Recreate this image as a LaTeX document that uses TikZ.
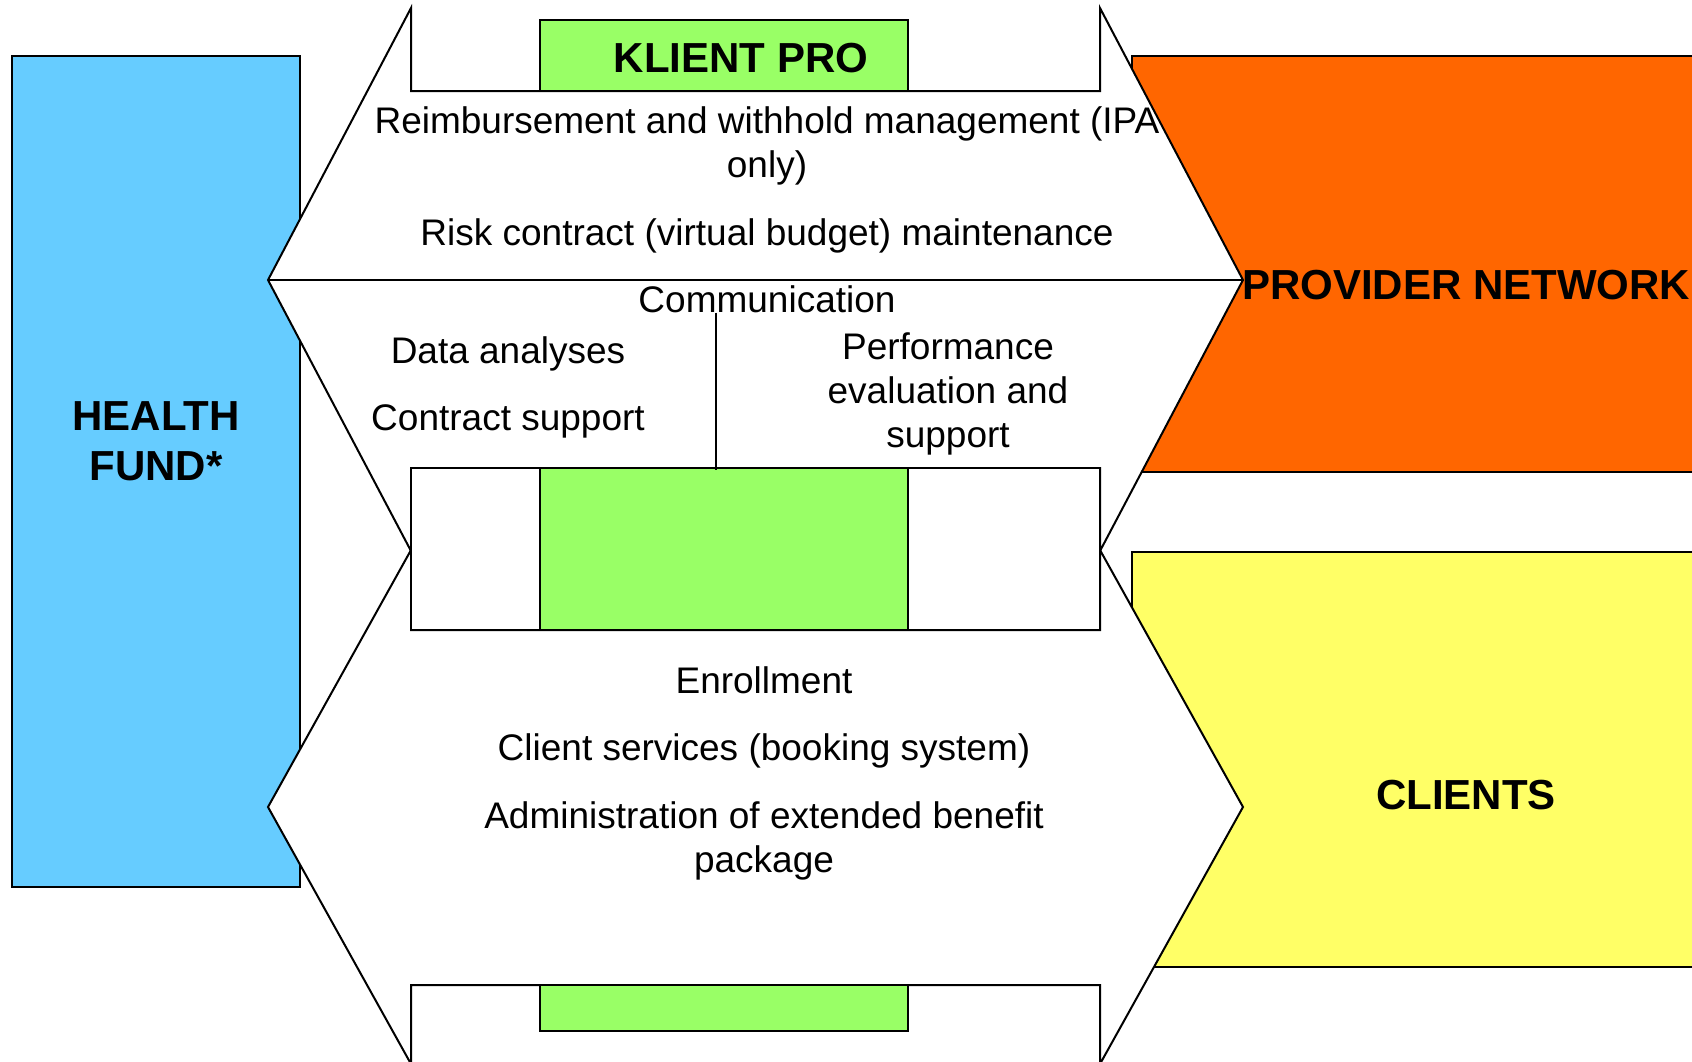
\documentclass[tikz,border=0pt]{standalone}
\usepackage{fontspec}
\setmainfont{Liberation Sans}
\usepackage{tikz}
\usetikzlibrary{positioning}

\definecolor{fundblue}{RGB}{102,204,255}
\definecolor{netorange}{RGB}{255,102,0}
\definecolor{clientyellow}{RGB}{255,255,102}
\definecolor{kpgreen}{RGB}{153,255,102}

\begin{document}
\begin{tikzpicture}[x=1pt, y=-1pt,
  edge/.style={draw=black, line width=2pt, line join=miter},
  txt/.style={anchor=base, align=center, inner sep=0pt, font=\fontsize{37}{44}\selectfont},
  title/.style={anchor=base, align=center, inner sep=0pt, font=\fontsize{42}{50}\selectfont\bfseries}]
\clip (0,0) rectangle (1692,1061);
\fill [white] (0,0) rectangle (1692,1061);

\path [fill=fundblue, edge] (12,56) rectangle (300,887);
\path [fill=netorange, edge] (1132,56) rectangle (1810,472);
\path [fill=clientyellow, edge] (1132,552) rectangle (1810,967);

% the two double arrows
\path [fill=white, edge] (268,280) -- (411,8) -- (411,91) -- (1100,91) -- (1100,8) -- (1243,280) -- (1100,551) -- (1100,468) -- (411,468) -- (411,551) -- cycle;
\path [fill=white, edge] (268,807) -- (411,550) -- (411,630) -- (1100,630) -- (1100,550) -- (1243,807) -- (1100,1064) -- (1100,985) -- (411,985) -- (411,1064) -- cycle;
\draw [edge] (268,280) -- (1243,280);

\path [fill=white, edge] (411,468) rectangle (1100,630);
\path [fill=kpgreen, edge] (540,468) rectangle (908,630);
\path [fill=kpgreen, edge] (540,20) rectangle (908,91);
\path [fill=kpgreen, edge] (540,985) rectangle (908,1031);
\coordinate (tap) at (716,470);

% labels (base sits on the last line)
\node [title] (kp) at (741,72) {KLIENT PRO};
\node [title] (fund) at (156,480) {HEALTH\\FUND*};
\node [title] (net) at (1466,299) {PROVIDER NETWORK};
\node [title] (cli) at (1466,809) {CLIENTS};

\node [txt] (reimb) at (767,177) {Reimbursement and withhold management (IPA\\only)};
\node [txt] (risk) at (767,245) {Risk contract (virtual budget) maintenance};
\node [txt] (comm) at (767,312) {Communication};
\node [txt] (data) at (508,363) {Data analyses};
\node [txt] (contr) at (508,430) {Contract support};
\node [txt] (perf) at (948,447) {Performance\\evaluation and\\support};
\node [txt] (enrol) at (764,693) {Enrollment};
\node [txt] (serv) at (764,760) {Client services (booking system)};
\node [txt] (admin) at (764,872) {Administration of extended benefit\\package};

\draw [line width=1.5pt] (comm.south -| tap) -- (tap);
\end{tikzpicture}
\end{document}
